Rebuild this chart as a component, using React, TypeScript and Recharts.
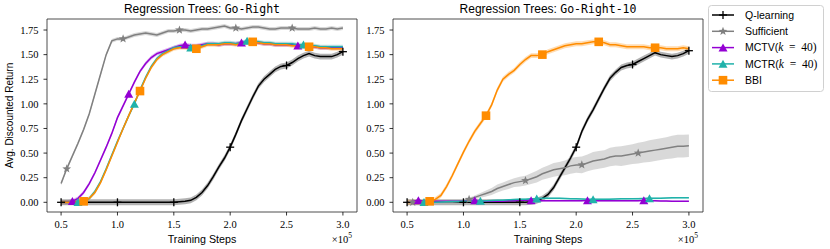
import React from 'react';
import { ComposedChart, Line, Area, XAxis, YAxis, ReferenceArea } from 'recharts';

// training steps, in units of 1e5
const steps = [
  0.5, 0.55, 0.6, 0.65, 0.7, 0.75, 0.8, 0.85, 0.9, 0.95,
  1.0, 1.05, 1.1, 1.15, 1.2, 1.25, 1.3, 1.35, 1.4, 1.45,
  1.5, 1.55, 1.6, 1.65, 1.7, 1.75, 1.8, 1.85, 1.9, 1.95,
  2.0, 2.05, 2.1, 2.15, 2.2, 2.25, 2.3, 2.35, 2.4, 2.45,
  2.5, 2.55, 2.6, 2.65, 2.7, 2.75, 2.8, 2.85, 2.9, 2.95, 3.0,
];
const xTicks = [0.5, 1.0, 1.5, 2.0, 2.5, 3.0];
const yTicks = [0, 0.25, 0.5, 0.75, 1.0, 1.25, 1.5, 1.75];

// Go-Right
const qLeft = [
  0, 0, 0, 0, 0, 0, 0, 0, 0, 0,
  0, 0, 0, 0, 0, 0, 0, 0, 0, 0,
  0, 0.005, 0.01, 0.02, 0.05, 0.1, 0.17, 0.26, 0.36, 0.45,
  0.56, 0.69, 0.83, 0.95, 1.07, 1.18, 1.25, 1.3, 1.35, 1.38,
  1.39, 1.42, 1.46, 1.49, 1.51, 1.49, 1.48, 1.48, 1.48, 1.5, 1.53,
];
const suffLeft = [
  0.19, 0.34, 0.47, 0.6, 0.74, 0.9, 1.1, 1.3, 1.5, 1.64,
  1.66, 1.66, 1.68, 1.7, 1.71, 1.72, 1.71, 1.7, 1.72, 1.74,
  1.74, 1.75, 1.75, 1.74, 1.75, 1.76, 1.76, 1.77, 1.78, 1.79,
  1.77, 1.77, 1.76, 1.77, 1.78, 1.78, 1.77, 1.76, 1.76, 1.77,
  1.77, 1.77, 1.76, 1.76, 1.76, 1.77, 1.76, 1.76, 1.77, 1.76, 1.77,
];
const mctvLeft = [
  0, 0, 0.01, 0.04, 0.1, 0.19, 0.3, 0.43, 0.56, 0.7,
  0.86, 0.98, 1.1, 1.22, 1.33, 1.41, 1.47, 1.51, 1.53, 1.55,
  1.57, 1.59, 1.6, 1.59, 1.59, 1.6, 1.61, 1.61, 1.6, 1.61,
  1.61, 1.61, 1.62, 1.63, 1.63, 1.62, 1.61, 1.61, 1.6, 1.6,
  1.6, 1.6, 1.59, 1.59, 1.58, 1.58, 1.57, 1.57, 1.57, 1.57, 1.57,
];
const mctrLeft = [
  0, 0, 0, 0, 0.01, 0.04, 0.11, 0.21, 0.34, 0.48,
  0.62, 0.75, 0.88, 1.0, 1.14, 1.27, 1.38, 1.46, 1.51, 1.54,
  1.57, 1.58, 1.58, 1.57, 1.58, 1.59, 1.61, 1.61, 1.61, 1.62,
  1.62, 1.61, 1.62, 1.64, 1.63, 1.63, 1.62, 1.62, 1.61, 1.61,
  1.61, 1.61, 1.6, 1.6, 1.59, 1.59, 1.58, 1.58, 1.58, 1.58, 1.58,
];
const bbiLeft = [
  0, 0, 0, 0, 0.01, 0.04, 0.1, 0.2, 0.33, 0.47,
  0.61, 0.75, 0.88, 1.01, 1.13, 1.26, 1.37, 1.45, 1.5, 1.53,
  1.56, 1.57, 1.57, 1.56, 1.56, 1.58, 1.6, 1.6, 1.6, 1.61,
  1.61, 1.6, 1.61, 1.62, 1.63, 1.62, 1.61, 1.61, 1.6, 1.6,
  1.6, 1.59, 1.59, 1.58, 1.58, 1.58, 1.57, 1.57, 1.56, 1.56, 1.56,
];

// Go-Right-10
const qRight = [
  0, 0, 0, 0, 0, 0, 0, 0, 0, 0,
  0, 0, 0, 0, 0, 0, 0, 0, 0, 0,
  0, 0, 0.005, 0.015, 0.04, 0.08, 0.15, 0.25, 0.35, 0.45,
  0.56, 0.72, 0.84, 0.94, 1.05, 1.16, 1.26, 1.32, 1.37, 1.39,
  1.4, 1.43, 1.46, 1.49, 1.52, 1.5, 1.49, 1.48, 1.49, 1.51, 1.54,
];
const suffRight = [
  0, 0, 0, 0, 0, 0, 0, 0, 0, 0.005,
  0.01, 0.03, 0.05, 0.07, 0.09, 0.11, 0.14, 0.16, 0.18, 0.2,
  0.21, 0.22, 0.24, 0.26, 0.29, 0.31, 0.33, 0.34, 0.35, 0.37,
  0.38, 0.38, 0.4, 0.42, 0.43, 0.44, 0.46, 0.47, 0.47, 0.48,
  0.49, 0.5, 0.51, 0.52, 0.53, 0.54, 0.55, 0.56, 0.57, 0.57, 0.575,
];
const suffRightErr = [
  0, 0, 0, 0, 0, 0, 0, 0, 0, 0.005,
  0.01, 0.015, 0.02, 0.025, 0.03, 0.035, 0.04, 0.04, 0.045, 0.045,
  0.05, 0.05, 0.055, 0.06, 0.06, 0.065, 0.07, 0.07, 0.075, 0.08,
  0.08, 0.085, 0.085, 0.09, 0.09, 0.09, 0.095, 0.095, 0.1, 0.1,
  0.1, 0.105, 0.105, 0.11, 0.11, 0.11, 0.11, 0.115, 0.115, 0.115, 0.115,
];
const mctvRight = [
  0, 0.01, 0.02, 0.01, 0.01, 0.01, 0.01, 0.01, 0.01, 0.01,
  0.01, 0.015, 0.02, 0.015, 0.01, 0.01, 0.01, 0.01, 0.015, 0.015,
  0.02, 0.02, 0.02, 0.02, 0.015, 0.015, 0.015, 0.015, 0.015, 0.015,
  0.015, 0.015, 0.02, 0.015, 0.015, 0.015, 0.015, 0.015, 0.015, 0.015,
  0.015, 0.015, 0.02, 0.015, 0.015, 0.012, 0.012, 0.01, 0.01, 0.01, 0.01,
];
const mctrRight = [
  0, 0, 0, 0, 0, 0, 0.003, 0.005, 0.007, 0.008,
  0.01, 0.01, 0.012, 0.013, 0.015, 0.018, 0.02, 0.022, 0.025, 0.028,
  0.03, 0.032, 0.035, 0.037, 0.04, 0.04, 0.04, 0.04, 0.038, 0.036,
  0.035, 0.033, 0.03, 0.03, 0.03, 0.03, 0.032, 0.033, 0.035, 0.035,
  0.036, 0.037, 0.038, 0.04, 0.04, 0.042, 0.043, 0.045, 0.046, 0.047, 0.047,
];
const bbiRight = [
  0, 0, 0, 0, 0.01, 0.03, 0.07, 0.16, 0.27, 0.39,
  0.51, 0.62, 0.72, 0.8, 0.88, 0.99, 1.14, 1.25, 1.3, 1.34,
  1.4, 1.45, 1.49, 1.49, 1.5, 1.53, 1.55, 1.57, 1.59, 1.6,
  1.61, 1.61, 1.62, 1.63, 1.63, 1.62, 1.6, 1.6, 1.59, 1.58,
  1.58, 1.58, 1.58, 1.57, 1.57, 1.57, 1.56, 1.56, 1.56, 1.57, 1.56,
];

type MarkerKind = 'plus' | 'star' | 'tri' | 'square';
type SeriesDef = {
  key: string;
  color: string;
  values: number[];
  err: number | number[];
  marker: MarkerKind;
  offset: number;
};

const COLORS = {
  q: '#000000',
  suff: '#808080',
  mctv: '#9400d3',
  mctr: '#20b2aa',
  bbi: '#ff8c00',
};

const legendItems: { key: keyof typeof COLORS; label: string; marker: MarkerKind; k?: boolean }[] = [
  { key: 'q', label: 'Q-learning', marker: 'plus' },
  { key: 'suff', label: 'Sufficient', marker: 'star' },
  { key: 'mctv', label: 'MCTV', marker: 'tri', k: true },
  { key: 'mctr', label: 'MCTR', marker: 'tri', k: true },
  { key: 'bbi', label: 'BBI', marker: 'square' },
];

const leftSeries: SeriesDef[] = [
  { key: 'q', color: COLORS.q, values: qLeft, err: 0.03, marker: 'plus', offset: 0 },
  { key: 'suff', color: COLORS.suff, values: suffLeft, err: 0.02, marker: 'star', offset: 1 },
  { key: 'mctv', color: COLORS.mctv, values: mctvLeft, err: 0.02, marker: 'tri', offset: 2 },
  { key: 'mctr', color: COLORS.mctr, values: mctrLeft, err: 0.02, marker: 'tri', offset: 3 },
  { key: 'bbi', color: COLORS.bbi, values: bbiLeft, err: 0.02, marker: 'square', offset: 4 },
];
const rightSeries: SeriesDef[] = [
  { key: 'q', color: COLORS.q, values: qRight, err: 0.03, marker: 'plus', offset: 0 },
  { key: 'suff', color: COLORS.suff, values: suffRight, err: suffRightErr, marker: 'star', offset: 1 },
  { key: 'mctv', color: COLORS.mctv, values: mctvRight, err: 0.006, marker: 'tri', offset: 2 },
  { key: 'mctr', color: COLORS.mctr, values: mctrRight, err: 0.008, marker: 'tri', offset: 3 },
  { key: 'bbi', color: COLORS.bbi, values: bbiRight, err: 0.025, marker: 'square', offset: 4 },
];

function buildRows(series: SeriesDef[]) {
  return steps.map((s, i) => {
    const row: any = { step: s };
    series.forEach(sd => {
      const v = sd.values[i];
      const e = Array.isArray(sd.err) ? sd.err[i] : sd.err;
      row[sd.key] = v;
      row[sd.key + 'Band'] = [v - e, v + e];
    });
    return row;
  });
}

function Marker({ kind, x, y, color }: { kind: MarkerKind; x: number; y: number; color: string }) {
  if (kind === 'plus') {
    return (
      <g stroke={color} strokeWidth={1.3}>
        <line x1={x - 4} x2={x + 4} y1={y} y2={y} />
        <line x1={x} x2={x} y1={y - 4} y2={y + 4} />
      </g>
    );
  }
  if (kind === 'star') {
    const pts: string[] = [];
    for (let i = 0; i < 10; i++) {
      const r = i % 2 === 0 ? 4.6 : 1.9;
      const a = -Math.PI / 2 + (i * Math.PI) / 5;
      pts.push(`${x + r * Math.cos(a)},${y + r * Math.sin(a)}`);
    }
    return <polygon points={pts.join(' ')} fill={color} />;
  }
  if (kind === 'tri') {
    return <polygon points={`${x},${y - 4.2} ${x + 4.5},${y + 3.8} ${x - 4.5},${y + 3.8}`} fill={color} />;
  }
  return <rect x={x - 4.3} y={y - 4.3} width={8.6} height={8.6} fill={color} />;
}

function makeDot(kind: MarkerKind, color: string, offset: number) {
  return (props: any) => {
    const { cx, cy, index } = props;
    if (cx == null || cy == null || index < offset || (index - offset) % 10 !== 0) {
      return <g key={`e${index}`} />;
    }
    return (
      <g key={`m${index}`}>
        <Marker kind={kind} x={cx} y={cy} color={color} />
      </g>
    );
  };
}

const X_DOMAIN: [number, number] = [0.375, 3.125];
const Y_DOMAIN: [number, number] = [-0.0985, 1.862];
const tickFont = { fontFamily: 'Liberation Serif, serif', fontSize: 10.5, fill: '#000' };

function Panel({ series, left }: { series: SeriesDef[]; left: number }) {
  const rows = buildRows(series);
  return (
    <div style={{ position: 'absolute', left, top: 0 }}>
      <ComposedChart width={380} height={249} data={rows} margin={{ top: 19, right: 23, bottom: 7, left: 7 }}>
        <XAxis
          dataKey="step"
          type="number"
          domain={X_DOMAIN}
          ticks={xTicks}
          allowDataOverflow
          tickFormatter={(v: number) => v.toFixed(1)}
          axisLine={false}
          tickLine={{ stroke: '#000', strokeWidth: 0.8 }}
          tickSize={3.5}
          tickMargin={5}
          height={30}
          tick={tickFont}
          interval={0}
        />
        <YAxis
          type="number"
          domain={Y_DOMAIN}
          ticks={yTicks}
          allowDataOverflow
          tickFormatter={(v: number) => v.toFixed(2)}
          axisLine={false}
          tickLine={{ stroke: '#000', strokeWidth: 0.8 }}
          tickSize={3.5}
          tickMargin={5}
          width={40}
          tick={tickFont}
          interval={0}
        />
        {series.map(sd => (
          <Area
            key={sd.key + 'Band'}
            dataKey={sd.key + 'Band'}
            type="linear"
            stroke="none"
            fill={sd.color}
            fillOpacity={0.3}
            isAnimationActive={false}
            activeDot={false}
          />
        ))}
        {series.map(sd => (
          <Line
            key={sd.key}
            dataKey={sd.key}
            type="linear"
            stroke={sd.color}
            strokeWidth={1.5}
            dot={makeDot(sd.marker, sd.color, sd.offset)}
            activeDot={false}
            isAnimationActive={false}
          />
        ))}
        <ReferenceArea
          x1={X_DOMAIN[0]}
          x2={X_DOMAIN[1]}
          y1={Y_DOMAIN[0]}
          y2={Y_DOMAIN[1]}
          fill="none"
          fillOpacity={0}
          stroke="#222"
          strokeWidth={0.8}
          ifOverflow="visible"
        />
      </ComposedChart>
    </div>
  );
}

const sans = 'Liberation Sans, Arial, sans-serif';
const serif = 'Liberation Serif, serif';
const mono = 'DejaVu Sans Mono, monospace';

function Overlay() {
  return (
    <svg width={830} height={249} style={{ position: 'absolute', left: 0, top: 0, pointerEvents: 'none' }}>
      <text x={202} y={13} textAnchor="middle" fontFamily={sans} fontSize={12}>
        Regression Trees: <tspan fontFamily={mono} fontSize={11.5}>Go-Right</tspan>
      </text>
      <text x={548} y={13} textAnchor="middle" fontFamily={sans} fontSize={12}>
        Regression Trees: <tspan fontFamily={mono} fontSize={11.5}>Go-Right-10</tspan>
      </text>
      <text transform="translate(12.5,115.5) rotate(-90)" textAnchor="middle" fontFamily={sans} fontSize={10}>
        Avg. Discounted Return
      </text>
      {[0, 346].map(dx => (
        <g key={dx}>
          <text x={202 + dx} y={243} textAnchor="middle" fontFamily={sans} fontSize={10.7}>
            Training Steps
          </text>
          <text x={352 + dx} y={243} textAnchor="end" fontFamily={serif} fontSize={10.5}>
            ×10<tspan dy={-5} fontSize={7.5}>5</tspan>
          </text>
        </g>
      ))}
      <rect x={708.5} y={5.5} width={115} height={86} rx={3} fill="#fff" fillOpacity={0.8} stroke="#d0d0d0" strokeWidth={1} />
      {legendItems.map((it, i) => {
        const y = 15 + i * 16.3;
        const c = COLORS[it.key];
        return (
          <g key={it.key}>
            <line x1={712} x2={734} y1={y} y2={y} stroke={c} strokeWidth={1.5} />
            <Marker kind={it.marker} x={723} y={y} color={c} />
            <text x={745} y={y + 3.8} fontFamily={sans} fontSize={10.5}>
              {it.label}
              {it.k ? (
                <>
                  (<tspan fontFamily={serif} fontSize={11.5}>
                    <tspan fontStyle="italic">k</tspan>{'\u2002=\u200240)'}
                  </tspan>
                </>
              ) : null}
            </text>
          </g>
        );
      })}
    </svg>
  );
}

export default function App() {
  return (
    <div style={{ position: 'absolute', left: 0, top: 0, width: 830, height: 249, background: '#fff' }}>
      <Panel series={leftSeries} left={0} />
      <Panel series={rightSeries} left={346} />
      <Overlay />
    </div>
  );
}
